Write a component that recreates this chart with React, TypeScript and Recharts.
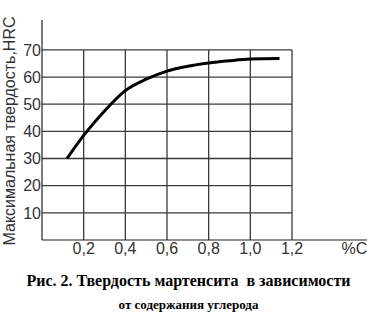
import { LineChart, Line, XAxis, YAxis, ReferenceLine } from "recharts";

const carbon = [0.12, 0.2, 0.3, 0.4, 0.5, 0.6, 0.7, 0.8, 0.9, 1.0, 1.14];
const hardness = [30, 38.5, 47.5, 55, 59.2, 62.2, 64, 65.2, 66, 66.6, 66.8];

const xTicks = [0.2, 0.4, 0.6, 0.8, 1.0, 1.2, 1.5];
const yTicks = [10, 20, 30, 40, 50, 60, 70];
const gridX = [0.2, 0.4, 0.6, 0.8, 1.0, 1.2];
const gridY = [10, 20, 30, 40, 50, 60, 70];

const X_MAX = 1.56;
const Y_MAX = 81;
const GRID_X_END = 1.2;
const GRID_Y_END = 70;

const data = carbon.map((c, i) => ({ c, hrc: hardness[i] }));

const GRID = "#3a3a3a";
const TEXT = "#333";
const SANS = "'Liberation Sans', Arial, sans-serif";

function fmtX(v: number): string {
  if (v > 1.3) return "%C";
  return v.toFixed(1).replace(".", ",");
}

export default function App() {
  return (
    <div style={{ position: "absolute", left: 0, top: 0, width: 377, height: 326, background: "#fff" }}>
      <LineChart
        width={377}
        height={326}
        data={data}
        margin={{ top: 20, right: 10, bottom: 56, left: 2 }}
      >
        <XAxis
          dataKey="c"
          type="number"
          domain={[0, X_MAX]}
          ticks={xTicks}
          tickFormatter={fmtX}
          height={30}
          tickSize={1}
          tickMargin={2}
          tickLine={false}
          axisLine={{ stroke: "#222", strokeWidth: 1.2 }}
          tick={{ fill: TEXT, fontSize: 16, fontFamily: SANS }}
          interval={0}
        />
        <YAxis
          type="number"
          domain={[0, Y_MAX]}
          ticks={yTicks}
          width={40}
          tickSize={1}
          tickMargin={0}
          tickLine={false}
          axisLine={{ stroke: "#222", strokeWidth: 1.2 }}
          tick={{ fill: TEXT, fontSize: 16, fontFamily: SANS }}
          interval={0}
        />
        {gridY.map((v) => (
          <ReferenceLine
            key={"h" + v}
            segment={[{ x: 0, y: v }, { x: GRID_X_END, y: v }]}
            stroke={GRID}
            strokeWidth={1.3}
          />
        ))}
        {gridX.map((v) => (
          <ReferenceLine
            key={"v" + v}
            segment={[{ x: v, y: 0 }, { x: v, y: GRID_Y_END }]}
            stroke={GRID}
            strokeWidth={1.3}
          />
        ))}
        <Line
          dataKey="hrc"
          type="monotone"
          stroke="#000"
          strokeWidth={3}
          dot={false}
          isAnimationActive={false}
        />
      </LineChart>
      <div
        style={{
          position: "absolute",
          left: 10,
          top: 131,
          transform: "translate(-50%, -50%) rotate(-90deg)",
          whiteSpace: "nowrap",
          fontFamily: SANS,
          fontSize: 16,
          color: TEXT,
          lineHeight: 1,
        }}
      >
        Максимальная твердость,HRC
      </div>
      <div
        style={{
          position: "absolute",
          left: 0,
          top: 271,
          width: 377,
          textAlign: "center",
          fontFamily: "'Liberation Serif', 'Times New Roman', serif",
          fontWeight: "bold",
          fontSize: 16,
          lineHeight: "20px",
          color: "#000",
          whiteSpace: "nowrap",
        }}
      >
        Рис. 2. Твердость мартенсита&nbsp; в зависимости
      </div>
      <div
        style={{
          position: "absolute",
          left: 0,
          top: 296,
          width: 377,
          textAlign: "center",
          fontFamily: "'Liberation Serif', 'Times New Roman', serif",
          fontWeight: "bold",
          fontSize: 13,
          lineHeight: "18px",
          color: "#000",
          whiteSpace: "nowrap",
        }}
      >
        от содержания углерода
      </div>
    </div>
  );
}
